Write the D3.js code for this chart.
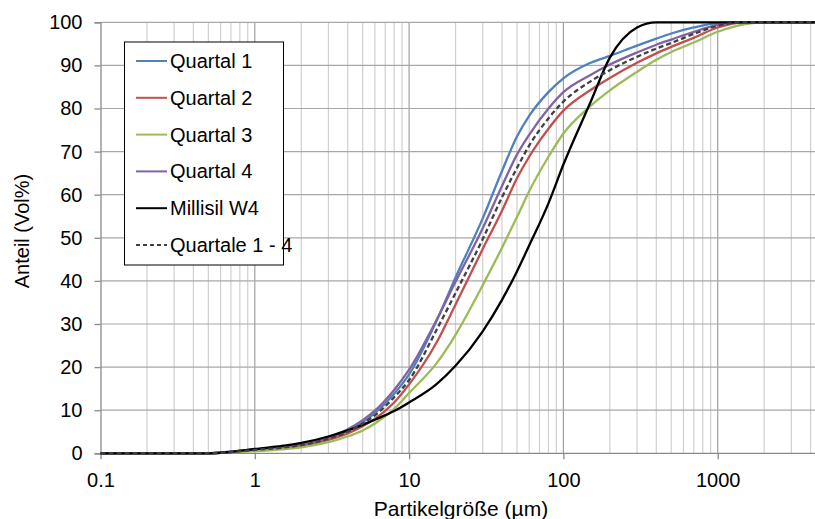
<!DOCTYPE html>
<html>
<head>
<meta charset="utf-8">
<script src="https://cdn.jsdelivr.net/npm/d3@7"></script>
<style>
body { margin: 0; background: #fff; }
text { font-family: "Liberation Sans", Arial, sans-serif; fill: #000; }
</style>
</head>
<body>
<div id="chart"></div>
<script>
// Data
var sizes = [0.1, 0.3, 0.5, 0.7, 1, 1.5, 2, 3, 4, 5, 6, 8, 10, 15, 20, 30, 40, 50, 60, 80, 100, 150, 200, 300, 400, 500, 700, 1000, 1500, 2000, 5000, 10000];
var quartal1 = [0, 0, 0, 0.4, 0.9, 1.4, 2.0, 3.5, 5.2, 7.2, 9.3, 13.8, 18.3, 30.6, 40.8, 54.5, 65.5, 73.5, 78.3, 83.8, 87, 90.6, 92.2, 94.6, 96.2, 97.4, 98.8, 99.8, 100, 100, 100, 100];
var quartal2 = [0, 0, 0, 0.3, 0.7, 1.2, 1.7, 3.1, 4.6, 6.3, 8.0, 11.8, 16, 25.6, 34.5, 47.4, 56.3, 63.8, 68.8, 75.3, 79.5, 84.3, 87.1, 90.6, 92.8, 94.3, 96.4, 98.8, 100, 100, 100, 100];
var quartal3 = [0, 0, 0, 0.2, 0.5, 0.9, 1.4, 2.6, 3.9, 5.3, 6.9, 10.3, 14, 20.8, 27.5, 39, 47.7, 54.8, 60.8, 68.8, 74.2, 80.6, 84.2, 88.5, 91.3, 93.1, 95.3, 97.8, 99.6, 100, 100, 100];
var quartal4 = [0, 0, 0, 0.4, 0.9, 1.5, 2.1, 3.8, 5.6, 7.7, 9.9, 14.7, 19.4, 30.8, 39.8, 52.2, 62, 69.3, 73.9, 80, 83.8, 87.8, 90.2, 93, 94.8, 96, 97.8, 99.4, 100, 100, 100, 100];
var millisil = [0, 0, 0, 0.3, 1.0, 1.7, 2.4, 3.9, 5.3, 6.6, 7.8, 9.8, 11.8, 16, 20.3, 28.3, 35.6, 42.2, 48.2, 58, 67, 81.5, 91.8, 98.8, 100, 100, 100, 100, 100, 100, 100, 100];
var quartale = [0, 0, 0, 0.3, 0.8, 1.3, 1.9, 3.4, 5.0, 6.9, 8.8, 13, 17, 28.5, 37.2, 49.7, 59.4, 66.2, 71.4, 77.7, 81.6, 86.3, 88.9, 92, 93.9, 95.2, 97.3, 99.2, 100, 100, 100, 100];

var seriesNames = ["Quartal 1", "Quartal 2", "Quartal 3", "Quartal 4", "Millisil W4", "Quartale 1 - 4"];
var seriesValues = [quartal1, quartal2, quartal3, quartal4, millisil, quartale];
var colors = ["#4F81BD", "#C0504D", "#9BBB59", "#8064A2", "#000000", "#404040"];
var yTicks = [0, 10, 20, 30, 40, 50, 60, 70, 80, 90, 100];
var xTicks = [0.1, 1, 10, 100, 1000];

var width = 815, height = 519;

var svg = d3.select("#chart").append("svg")
	.attr("width", width)
	.attr("height", height);

// Scales (log axis runs past the right edge, as in the picture)
var x = d3.scaleLog().domain([0.1, 10000]).range([100.5, 872]);
var y = d3.scaleLinear().domain([0, 100]).range([453.3, 22.3]);

// Vertical grid: minor then decade lines
var minor = [];
for (var e = -1; e < 4; e++) {
	for (var m = 2; m <= 9; m++) minor.push(m * Math.pow(10, e));
}
svg.append("g")
	.selectAll("line")
	.data(minor)
	.enter().append("line")
	.attr("x1", d => x(d)).attr("x2", d => x(d))
	.attr("y1", y(0)).attr("y2", y(100))
	.attr("stroke", "#d0d0d0")
	.attr("stroke-width", 1.2);

svg.append("g")
	.selectAll("line")
	.data([1, 10, 100, 1000])
	.enter().append("line")
	.attr("x1", d => x(d)).attr("x2", d => x(d))
	.attr("y1", y(0)).attr("y2", y(100))
	.attr("stroke", "#a0a0a0")
	.attr("stroke-width", 1.2);

// Horizontal grid
svg.append("g")
	.selectAll("line")
	.data(yTicks.slice(1))
	.enter().append("line")
	.attr("x1", x(0.1)).attr("x2", width)
	.attr("y1", d => y(d)).attr("y2", d => y(d))
	.attr("stroke", "#a8a8a8")
	.attr("stroke-width", 1.2);

// Axes
var yAxis = svg.append("g")
	.attr("transform", "translate(" + x(0.1) + ",0)")
	.call(d3.axisLeft(y).tickValues(yTicks).tickSize(6).tickPadding(12));
var xAxis = svg.append("g")
	.attr("transform", "translate(0," + y(0) + ")")
	.call(d3.axisBottom(x).tickValues(xTicks).tickFormat(d => String(d)).tickSize(6).tickPadding(14));

[yAxis, xAxis].forEach(function(a) {
	a.select(".domain").attr("stroke", "#8a8a8a").attr("stroke-width", 1.3);
	a.selectAll(".tick line").attr("stroke", "#8a8a8a").attr("stroke-width", 1.3);
	a.selectAll(".tick text").attr("font-size", 20).attr("fill", "#000")
		.style("font-family", "Liberation Sans, Arial, sans-serif");
});
xAxis.select(".domain").attr("d", "M" + x(0.1) + ",0H" + width);

// Axis titles
svg.append("text")
	.attr("transform", "translate(29,231) rotate(-90)")
	.attr("text-anchor", "middle")
	.attr("font-size", 20)
	.text("Anteil (Vol%)");

svg.append("text")
	.attr("x", 461)
	.attr("y", 516)
	.attr("text-anchor", "middle")
	.attr("font-size", 21)
	.text("Partikelgröße (µm)");

// Lines
var line = d3.line()
	.x((d, i) => x(sizes[i]))
	.y(d => y(d))
	.curve(d3.curveMonotoneX);

svg.append("g")
	.selectAll("path")
	.data(seriesValues)
	.enter().append("path")
	.attr("fill", "none")
	.attr("stroke", (d, i) => colors[i])
	.attr("stroke-width", 2.3)
	.attr("stroke-dasharray", (d, i) => i == 5 ? "5,3" : null)
	.attr("d", line);

// Legend
var legend = svg.append("g");
legend.append("rect")
	.attr("x", 124.5).attr("y", 42)
	.attr("width", 159).attr("height", 223)
	.attr("fill", "#fff")
	.attr("stroke", "#000")
	.attr("stroke-width", 1);

var items = legend.selectAll("g.item")
	.data(seriesNames)
	.enter().append("g")
	.attr("class", "item")
	.attr("transform", (d, i) => "translate(0," + (61 + i * 36.8) + ")");
items.append("line")
	.attr("x1", 136).attr("x2", 167)
	.attr("stroke", (d, i) => colors[i])
	.attr("stroke-width", 2)
	.attr("stroke-dasharray", (d, i) => i == 5 ? "4,3" : null);
items.append("text")
	.attr("x", 170)
	.attr("dy", "0.35em")
	.attr("font-size", 20)
	.text(d => d);
</script>
</body>
</html>
